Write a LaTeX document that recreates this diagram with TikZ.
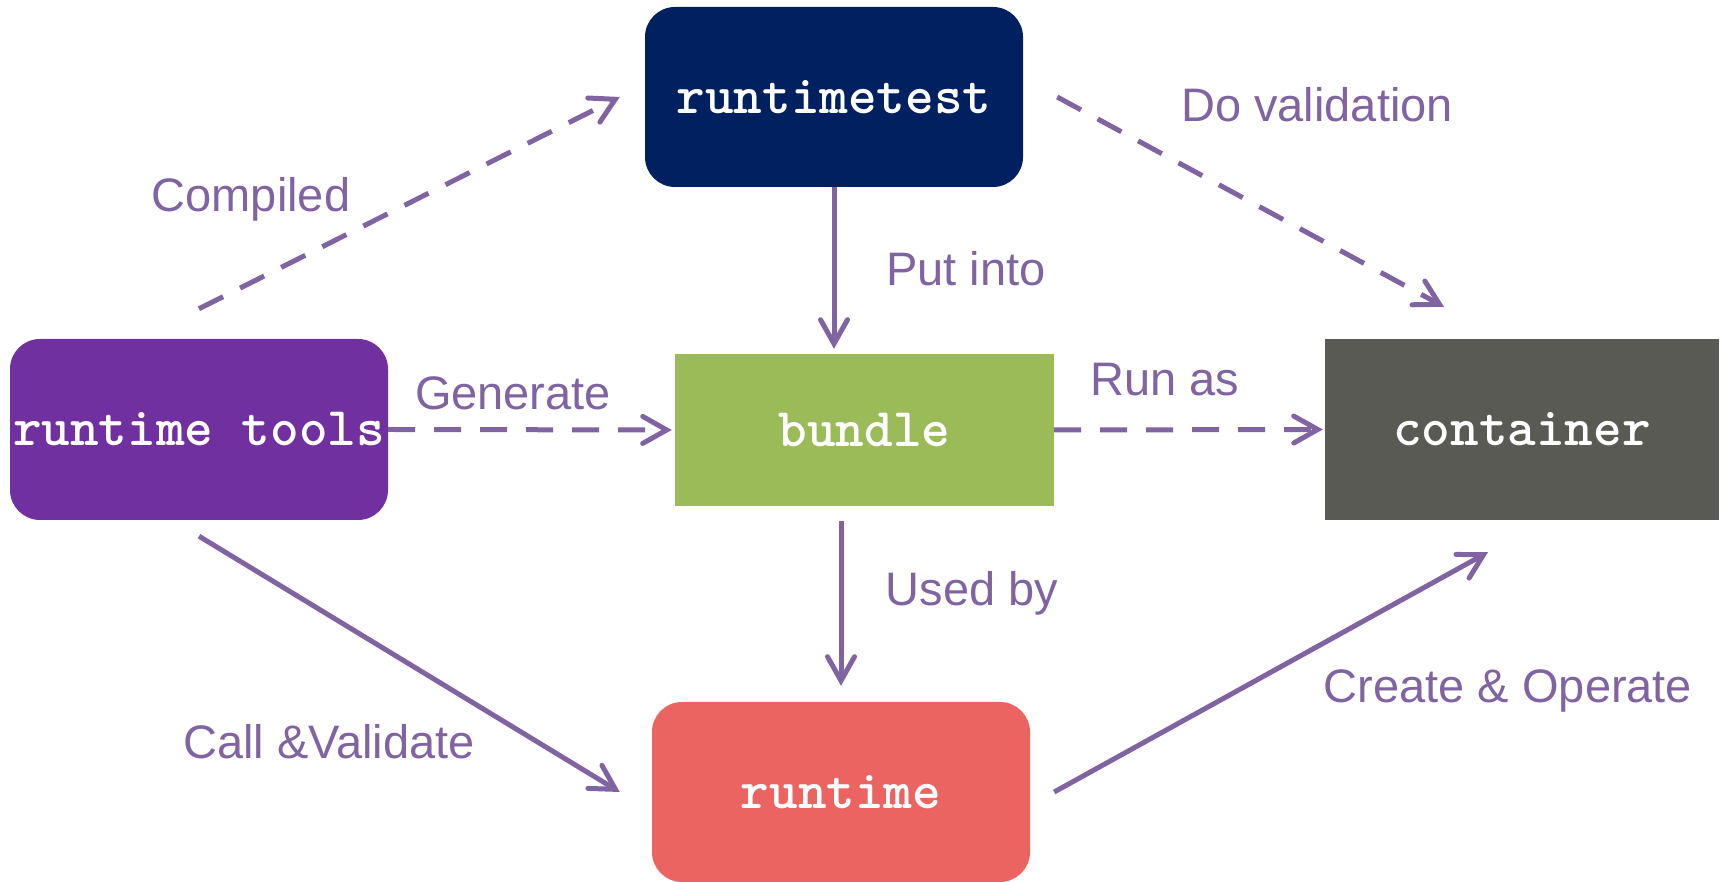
\documentclass[tikz,border=0pt]{standalone}
\usepackage{fontspec}
\setmainfont{Liberation Sans}
\usetikzlibrary{arrows.meta,calc}
\definecolor{arrowc}{HTML}{8064A2}
\definecolor{navyc}{HTML}{002060}
\definecolor{purplec}{HTML}{7030A0}
\definecolor{greenc}{HTML}{9BBB59}
\definecolor{grayc}{HTML}{5A5A54}
\definecolor{redc}{HTML}{EB6461}
\tikzset{
  boxbase/.style={inner sep=0pt, text=white, font=\ttfamily\bfseries\fontsize{54.5}{60}\selectfont, minimum width=378pt, minimum height=180pt},
  roundbox/.style={boxbase, rounded corners=30pt},
  lbl/.style={text=arrowc, font=\fontsize{47}{56}\selectfont, inner sep=0pt},
  conn/.style={draw=arrowc, line width=5pt, -{Straight Barb[length=24pt,width=27pt,line cap=round]}},
  dconn/.style={conn, dash pattern=on 27pt off 19pt},
}
\begin{document}
\begin{tikzpicture}[x=1pt,y=1pt]
\useasboundingbox (0,0) rectangle (1721,882);
% nodes
\node[roundbox, fill=navyc] (test) at (834,785) {runtimetest};
\node[roundbox, fill=purplec, minimum height=181pt] (tools) at (199,452.5) {runtime tools};
\node[boxbase, fill=greenc, minimum width=379pt, minimum height=152pt] (bundle) at (864.5,452) {bundle};
\node[boxbase, fill=grayc, minimum width=394pt, minimum height=181pt] (container) at (1522,452.5) {container};
\node[roundbox, fill=redc] (runtime) at (841,90) {runtime};
% connectors
\draw[dconn] ($(tools.north)+(0,30)$) -- ($(test.west)+(-25,0)$);
\draw[dconn] ($(test.east)+(34,0)$) -- ($(container.north)+(-78,32)$);
\draw[conn, shorten >=5pt] (test.south) -- (test.south |- bundle.north);
\draw[dconn, shorten >=3pt] (tools.east) -- (bundle.west);
\draw[dconn, shorten >=2pt] (bundle.east) -- (container.west);
\draw[conn] ($(runtime.north |- bundle.south)+(0,-15)$) -- ($(runtime.north)+(0,16)$);
\draw[conn] ($(tools.south)+(0,-16)$) -- ($(runtime.west)+(-32,0)$);
\draw[conn] ($(runtime.east)+(24,0)$) -- ($(container.south)+(-34,-32)$);
% labels
\node[lbl] (lcompiled) at (251,683) {Compiled};
\node[lbl] (ldoval) at (1317,777) {Do validation};
\node[lbl] (lput) at (966,613) {Put into};
\node[lbl] (lgen) at (513,489) {Generate};
\node[lbl] (lrun) at (1165,502) {Run as};
\node[lbl] (lused) at (972,289) {Used by};
\node[lbl] (lcall) at (329,140) {Call \&Validate};
\node[lbl] (lcreate) at (1508,191) {Create \& Operate};
\end{tikzpicture}
\end{document}
